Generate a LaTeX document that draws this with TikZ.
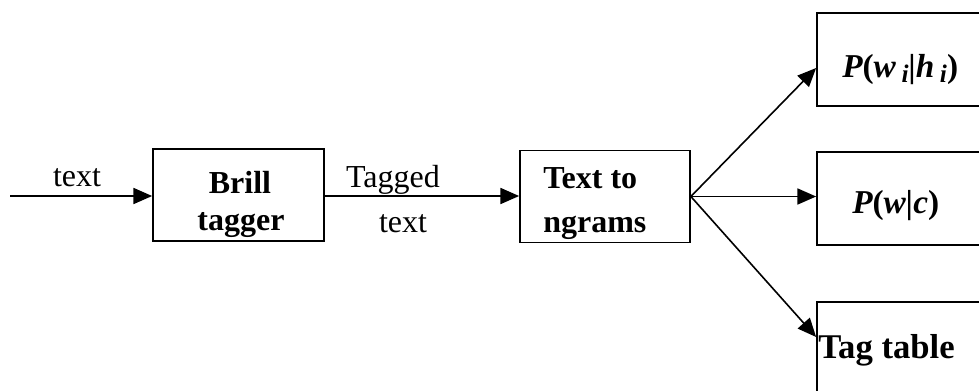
\documentclass[tikz,border=0pt]{standalone}
\usepackage{fontspec}
\setmainfont{Liberation Serif}
\usetikzlibrary{arrows.meta,calc}

\newcommand{\lowsub}[1]{\raisebox{-4pt}{\fontsize{19}{19}\selectfont #1}}

\begin{document}
\begin{tikzpicture}[x=0.75pt,y=0.75pt,yscale=-1,xscale=1,
  tbox/.style={draw,line width=1.3pt,minimum height=69pt,inner sep=0pt},
  rbox/.style={draw,line width=1.3pt,minimum width=137.25pt,minimum height=69.75pt,inner sep=0pt},
  lbl/.style={inner sep=0pt,anchor=base,font=\fontsize{24}{28}\selectfont},
  blbl/.style={inner sep=0pt,font=\fontsize{24}{28}\selectfont\bfseries},
  arr/.style={line width=1.2pt,-{Triangle[length=14pt,width=12pt]}}]
\useasboundingbox (0,0) rectangle (979,390);
\clip (0,0) rectangle (979,390);

%Shape: Boxes
\node[tbox,minimum width=128.25pt] (brill) at (238.5,195) {};
\node[tbox,minimum width=127.5pt] (ngram) at (605,196.5) {};
\node[rbox] (pwh) at (908.5,59.5) {};
\node[rbox] (pwc) at (908.5,198.5) {};
\node[rbox] (tagt) at (908.5,348.5) {};

%Straight Lines
\coordinate (in) at (10,196);
\draw[arr] (in) -- (brill.west |- in);
\draw[arr] (brill.east |- in) -- (ngram.west |- in);
\draw[arr] (ngram.east) -- ($(pwh.west)+(0,8.5)$);
\draw[arr] (ngram.east) -- (ngram.east -| pwc.west);
\draw[arr] (ngram.east) -- ($(tagt.west)+(0,-11.5)$);

% Text Node
\node[blbl,anchor=base] (brilltxt) at (240,193) {Brill};
\node[blbl,anchor=base] (taggertxt) at (241,230) {tagger};
\node[blbl,anchor=base west] (texttotxt) at (543,188) {Text to};
\node[blbl,anchor=base west] (ngramtxt) at (543,232) {ngrams};
% Text Node
\node[lbl] (intxt) at (77,186) {text};
\node[lbl] (tagged) at (393,187) {Tagged};
\node[lbl] (taggedtxt) at (403,232) {text};
% Text Node
\node[blbl,anchor=base west,font=\fontsize{25}{28}\selectfont\bfseries] (pwhtxt) at (842,77) {\itshape P\upshape(\itshape w\,\lowsub{i}|h\,\lowsub{i}\upshape)};
\node[blbl,anchor=base west,font=\fontsize{25}{28}\selectfont\bfseries] (pwctxt) at (852,213) {\itshape P\upshape(\itshape w|c\upshape)};
\node[blbl,anchor=base west,font=\fontsize{26}{28}\selectfont\bfseries] (tagtxt) at (818,358) {Tag table};
\end{tikzpicture}
\end{document}
